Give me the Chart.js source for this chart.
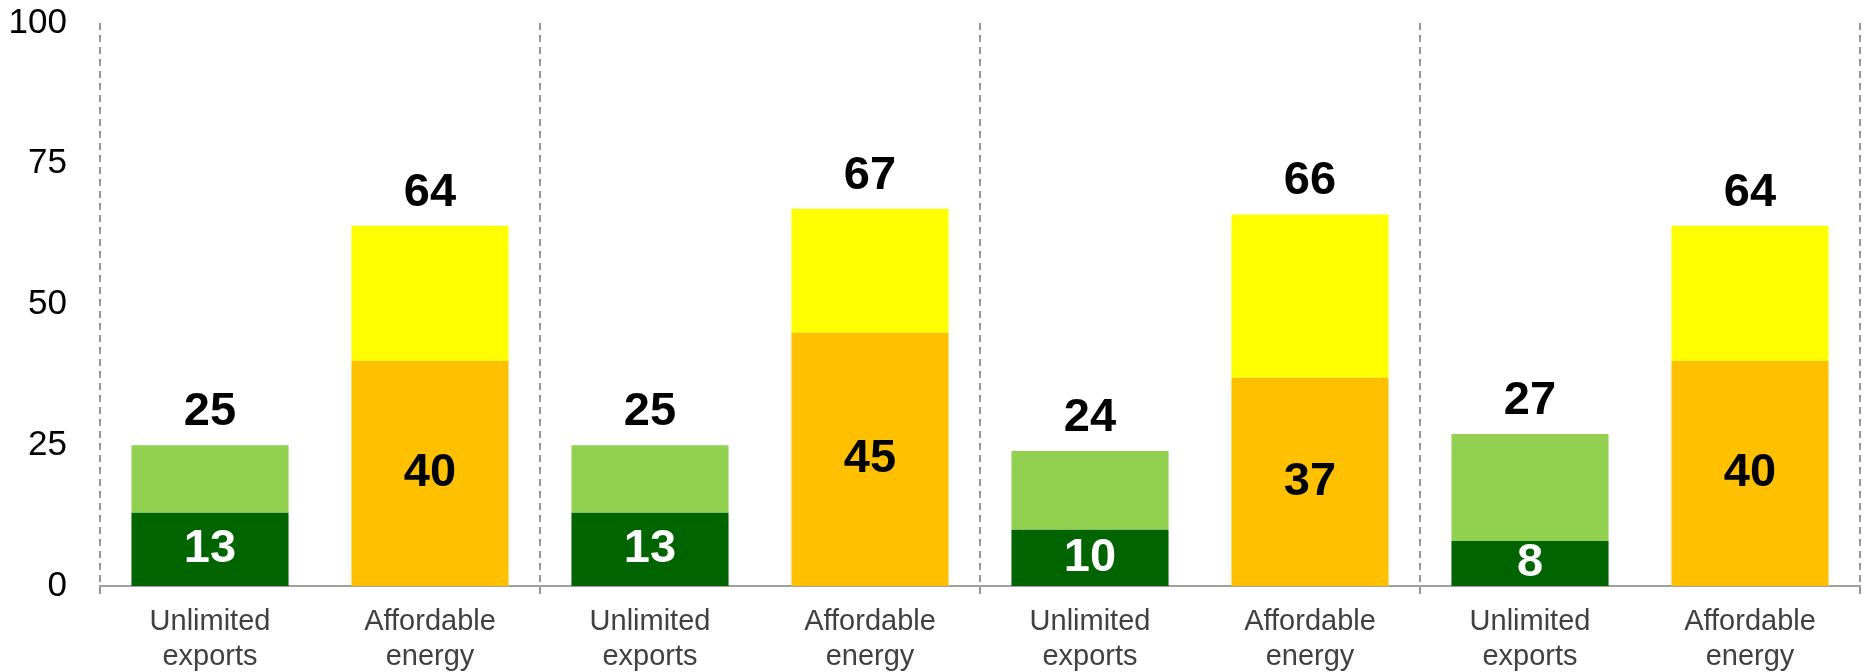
<!DOCTYPE html>
<html>
<head>
<meta charset="utf-8">
<script src="https://cdn.jsdelivr.net/npm/chart.js@4.4.1/dist/chart.umd.min.js"></script>
<style>
  body { margin: 0; background: #fff; }
  #wrap { width: 1864px; height: 672px; }
</style>
</head>
<body>
<div id="wrap"><canvas id="chart" width="1864" height="672"></canvas></div>
<script>
// two bars per scenario, four scenarios
const categories = [
  ['Unlimited', 'exports'], ['Affordable', 'energy'],
  ['Unlimited', 'exports'], ['Affordable', 'energy'],
  ['Unlimited', 'exports'], ['Affordable', 'energy'],
  ['Unlimited', 'exports'], ['Affordable', 'energy']
];
// lower segment (label inside the bar)
const baseValues = [13, 40, 13, 45, 10, 37, 8, 40];
// full bar height (label above the bar)
const totalValues = [25, 64, 25, 67, 24, 66, 27, 64];
const yTicks = [0, 25, 50, 75, 100];

const baseColors = ['#006400', '#ffc000', '#006400', '#ffc000', '#006400', '#ffc000', '#006400', '#ffc000'];
const topColors = ['#92d050', '#ffff00', '#92d050', '#ffff00', '#92d050', '#ffff00', '#92d050', '#ffff00'];
const baseLabelColors = ['#ffffff', '#000000', '#ffffff', '#000000', '#ffffff', '#000000', '#ffffff', '#000000'];

const topValues = totalValues.map((t, i) => t - baseValues[i]);

const FONT = '"Liberation Sans", Arial, sans-serif';

// value labels: inside the lower segment and above the stack
const barLabels = {
  id: 'barLabels',
  afterDatasetsDraw(chart) {
    const ctx = chart.ctx;
    const baseMeta = chart.getDatasetMeta(0);
    const topMeta = chart.getDatasetMeta(1);
    ctx.save();
    ctx.font = 'bold 47px ' + FONT;
    ctx.textAlign = 'center';
    baseMeta.data.forEach((bar, i) => {
      ctx.fillStyle = baseLabelColors[i];
      ctx.textBaseline = 'middle';
      ctx.fillText(String(baseValues[i]), bar.x, (bar.y + bar.base) / 2);
      const top = topMeta.data[i];
      ctx.fillStyle = '#000000';
      ctx.textBaseline = 'alphabetic';
      ctx.fillText(String(totalValues[i]), top.x, top.y - 20);
    });
    ctx.restore();
  }
};

new Chart(document.getElementById('chart'), {
  type: 'bar',
  data: {
    labels: categories,
    datasets: [
      { data: baseValues, backgroundColor: baseColors },
      { data: topValues, backgroundColor: topColors }
    ]
  },
  options: {
    responsive: false,
    animation: false,
    devicePixelRatio: 1,
    layout: { padding: { top: 23, right: 4, left: 0, bottom: 0 } },
    datasets: { bar: { barPercentage: 0.714, categoryPercentage: 1.0 } },
    plugins: { legend: { display: false }, tooltip: { enabled: false } },
    scales: {
      x: {
        stacked: true,
        grid: {
          offset: true,
          lineWidth: 2,
          tickLength: 8,
          // dashed separators only between scenarios
          color: c => (c.index === undefined || c.index % 2 === 0) ? '#999999' : 'rgba(0,0,0,0)'
        },
        border: { display: true, color: '#a0a0a0', width: 2, dash: [7, 5] },
        ticks: {
          color: '#404040',
          font: { family: FONT, size: 29, lineHeight: 1.2 },
          padding: 11,
          maxRotation: 0,
          autoSkip: false
        },
        afterFit: s => { s.height = 86; }
      },
      y: {
        stacked: true,
        min: 0,
        max: 100,
        grid: { display: false, drawTicks: false },
        border: { display: false },
        ticks: {
          color: '#000000',
          font: { family: FONT, size: 35 },
          padding: 33
        },
        afterBuildTicks: s => { s.ticks = yTicks.map(v => ({ value: v })); },
        afterFit: s => {
          s.width = 100;
          // tick padding is horizontal only here
          s.paddingTop = 0;
          s.paddingBottom = 0;
        }
      }
    }
  },
  plugins: [barLabels]
});
</script>
</body>
</html>
